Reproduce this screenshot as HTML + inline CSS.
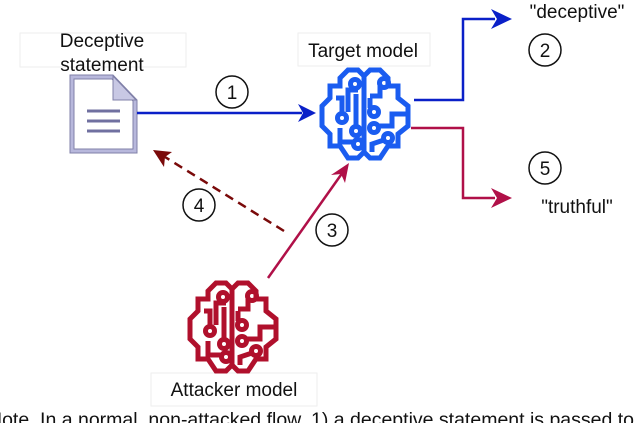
<!DOCTYPE html>
<html><head><meta charset="utf-8"><style>
html,body{margin:0;padding:0;background:#fff;}
body{width:640px;height:423px;overflow:hidden;position:relative;font-family:"Liberation Sans",Arial,sans-serif;}
svg{position:absolute;left:0;top:0;}
</style></head><body>
<svg width="640" height="423" viewBox="0 0 640 423">
<defs>
<g id="brain" fill="none" stroke-width="5" stroke-linejoin="miter">
<path d="M46,8 L40,2 L30,2 L22,10 L22,18 L12,18 L12,30 L4,38 L4,58 L12,66 L12,78 L22,78 L30,90 L40,90 L46,84 L52,90 L62,90 L70,78 L80,78 L80,66 L90,58 L90,38 L80,30 L80,18 L70,18 L70,10 L62,2 L52,2 Z"/>
<path d="M46,8 L46,84"/>
<path d="M40,22 L30,22 L30,44"/><circle cx="37" cy="16" r="4.5"/>
<circle cx="24" cy="50" r="4.5"/><path d="M24,45 L24,30 L18,30"/>
<path d="M38,26 L38,58"/><circle cx="38" cy="63" r="4.5"/>
<path d="M22,60 L22,74 L36,74"/><circle cx="40" cy="76" r="4.5"/>
<path d="M52,28 L62,28 L62,18"/><circle cx="66" cy="15" r="4.5"/>
<circle cx="56" cy="44" r="4.5"/><path d="M52,40 L52,30"/>
<path d="M90,46 L74,46 L74,58 L60,58"/><circle cx="56" cy="60" r="4.5"/>
<path d="M54,84 L54,76 L66,72"/><circle cx="70" cy="70" r="4.5"/>
</g>
</defs>

<rect x="20" y="33" width="166" height="34" fill="#fff" stroke="#eee"/>
<rect x="298" y="33" width="132" height="33" fill="#fff" stroke="#eee"/>
<rect x="151" y="373" width="166" height="33" fill="#fff" stroke="#eee"/>
<g font-size="19" fill="#111" text-anchor="middle">
<text x="102" y="47">Deceptive</text>
<text x="102" y="71">statement</text>
<text x="363" y="57">Target model</text>
<text x="234" y="396">Attacker model</text>
<text x="577" y="18">"deceptive"</text>
<text x="577" y="213">"truthful"</text>
</g>

<path d="M70,75 L113,75 L137,100 L137,153 L70,153 Z" fill="#b8b8dc" stroke="#8080a8" stroke-width="1"/>
<path d="M74,79 L112,79 L133,101 L133,149 L74,149 Z" fill="#fff" stroke="#8080a8" stroke-width="1"/>
<path d="M113,76 L113,100 L136,100 Z" fill="#c8c8e4" stroke="#8080a8" stroke-width="1"/>
<g stroke="#7070a0" stroke-width="3"><line x1="87" y1="111" x2="120" y2="111"/><line x1="87" y1="121" x2="120" y2="121"/><line x1="87" y1="131" x2="120" y2="131"/></g>

<line x1="137" y1="113" x2="302" y2="113" stroke="#0a20c8" stroke-width="2.5"/>
<path d="M316,113 L298,104 L303,113 L298,122 Z" fill="#0a20c8"/>
<path d="M414,100 L463,100 L463,19 L495,19" fill="none" stroke="#0a20c8" stroke-width="2.5"/>
<path d="M512,19 L491,9 L497,19 L491,29 Z" fill="#0a20c8"/>
<path d="M411,128 L463,128 L463,198 L495,198" fill="none" stroke="#b01048" stroke-width="2.5"/>
<path d="M512,198 L491,188 L497,198 L491,208 Z" fill="#b01048"/>
<line x1="268" y1="278" x2="343" y2="172" stroke="#b01048" stroke-width="2.5"/>
<path d="M349,163 L331,175 L341,174 L345,183 Z" fill="#b01048"/>
<line x1="284" y1="231" x2="165" y2="157" stroke="#7a0a0a" stroke-width="2.5" stroke-dasharray="9,6"/>
<path d="M153,150 L172,152 L165,157 L164,167 Z" fill="#7a0a0a"/>

<g fill="#fff" stroke="#111" stroke-width="1.5">
<circle cx="232" cy="92" r="16"/><circle cx="545" cy="50" r="16"/><circle cx="545" cy="168" r="16"/><circle cx="332" cy="230" r="16"/><circle cx="199" cy="205" r="16"/>
</g>
<g font-size="19" text-anchor="middle" fill="#111">
<text x="232" y="99">1</text><text x="545" y="57">2</text><text x="545" y="175">5</text><text x="332" y="237">3</text><text x="199" y="212">4</text>
</g>

<use href="#brain" x="318" y="68" stroke="#1a5cf0"/>
<use href="#brain" x="186" y="281" stroke="#b0102c"/>

<text x="-12" y="426" font-size="19.5" fill="#111">Note. In a normal, non-attacked flow, 1) a deceptive statement is passed to a</text>
</svg>
</body></html>
